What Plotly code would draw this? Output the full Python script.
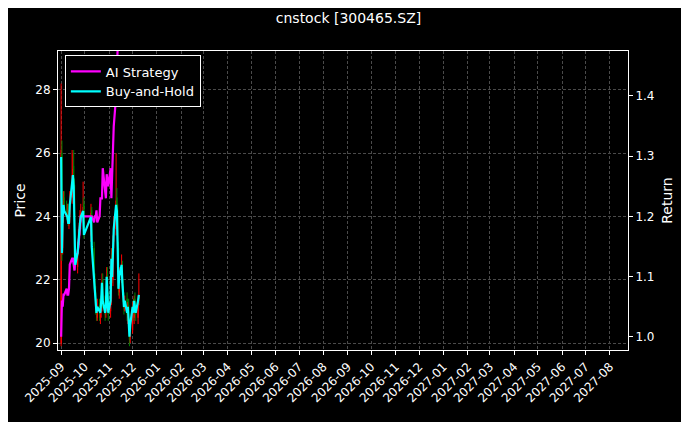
import pandas as pd
import plotly.graph_objects as go

dates = [d for d in pd.bdate_range("2025-09-01", "2025-12-10") if not (pd.Timestamp("2025-10-01") <= d <= pd.Timestamp("2025-10-08"))]

open_ = [20.0,26.0,23.0,24.0,24.6,24.2,24.0,24.2,23.8,24.0,24.6,25.2,25.6,25.0,22.8,22.4,23.0,23.2,23.6,23.8,24.2,24.4,
         23.4,24.2,23.0,22.0,21.6,21.2,20.8,21.2,20.8,21.0,21.2,22.0,21.2,21.0,21.2,22.2,
         21.4,21.0,21.4,22.8,22.0,23.2,23.6,24.6,24.2,23.0,21.6,22.2,22.4,21.8,21.4,21.2,21.4,20.8,21.2,20.6,
         20.2,20.4,21.2,20.8,21.4,21.0,20.8,21.4]
high = [28.2,26.4,24.4,24.8,24.8,24.5,24.4,24.4,24.2,24.8,26.1,26.0,26.1,25.2,23.0,23.2,23.6,23.8,24.2,24.4,25.1,24.6,
        24.4,24.3,23.2,22.2,21.8,21.4,21.4,21.4,21.1,21.5,22.2,22.2,21.5,21.4,22.4,22.4,
        21.6,21.6,23.0,23.0,23.4,24.0,26.0,24.9,24.4,23.2,22.4,22.8,22.6,22.0,21.6,21.5,21.6,21.3,21.4,20.8,
        20.7,21.3,21.4,21.5,21.6,21.2,21.5,22.2]
low = [19.9,22.6,22.8,23.8,24.1,23.9,23.8,23.7,23.6,23.8,24.4,25.0,24.9,22.5,22.3,22.2,22.8,23.1,23.4,23.6,24.0,23.3,
       23.2,22.9,21.7,21.5,20.9,20.7,20.7,20.7,20.6,20.8,21.0,21.1,20.7,20.8,21.0,21.3,
       20.7,20.8,21.2,21.9,21.8,23.0,23.4,24.0,22.9,21.5,21.4,21.9,21.7,21.3,20.9,21.0,20.7,20.6,20.5,19.9,
       20.0,20.3,20.7,20.6,20.9,20.7,20.6,21.2]
close = [26.1,22.9,24.1,24.5,24.3,24.1,24.1,23.9,23.9,24.5,25.3,25.5,25.1,22.7,22.5,22.9,23.3,23.5,23.9,24.1,24.3,23.5,
         24.1,23.1,21.9,21.7,21.1,20.9,21.1,20.9,20.9,21.3,21.9,21.3,20.9,21.1,22.1,21.5,
         20.9,21.3,22.7,22.1,23.1,23.7,24.5,24.3,23.1,21.7,22.1,22.5,21.9,21.5,21.1,21.3,20.9,21.1,20.7,20.1,
         20.5,21.1,20.9,21.3,21.1,20.9,21.3,21.5]
strategy = [1.00,1.06,1.05,1.07,1.07,1.08,1.07,1.07,1.08,1.12,1.13,1.13,1.12,1.11,1.13,1.14,1.15,1.17,1.19,1.20,1.20,1.20,
            1.20,1.20,1.19,1.20,1.20,1.21,1.19,1.20,1.23,1.23,1.23,1.28,1.24,1.23,1.27,1.26,
            1.25,1.28,1.23,1.27,1.30,1.35,1.40,1.45,1.50,1.55,1.56,1.58,1.60,1.60,1.62,1.62,1.63,1.63,1.64,1.64,
            1.65,1.65,1.65,1.65,1.65,1.65,1.65,1.65]
base_price = 20.1
buy_hold = [c / base_price for c in close]

fig = go.Figure()
fig.add_trace(go.Candlestick(x=dates, open=open_, high=high, low=low, close=close,
    increasing=dict(line=dict(color="#ff0000", width=1), fillcolor="#ff0000"),
    decreasing=dict(line=dict(color="#008000", width=1), fillcolor="#008000"),
    whiskerwidth=0, showlegend=False, yaxis="y"))
fig.add_trace(go.Scatter(x=dates, y=strategy, mode="lines", name="AI Strategy",
                         line=dict(color="#ff00ff", width=2.2), yaxis="y2"))
fig.add_trace(go.Scatter(x=dates, y=buy_hold, mode="lines", name="Buy-and-Hold",
                         line=dict(color="#00ffff", width=2.2), yaxis="y2"))

grid = dict(showgrid=True, gridcolor="#4a4a4a", griddash="3px,2px", gridwidth=0.6,
            showline=True, linecolor="white", mirror=True, ticks="outside", ticklen=4,
            tickcolor="white", color="white", zeroline=False, automargin=False)
fig.update_layout(
    width=681, height=414, paper_bgcolor="black", plot_bgcolor="black",
    font=dict(family="DejaVu Sans", size=12, color="white"),
    margin=dict(l=50, r=61, t=43, b=72),
    title=dict(text="cnstock [300465.SZ]", x=0.5, y=0.975, yanchor="middle", xanchor="center", font=dict(size=14)),
    xaxis=dict(**grid, type="date", range=["2025-08-28", "2027-08-24"], dtick="M1",
               tick0="2025-09-01", tickformat="%Y-%m", tickangle=-45, rangeslider=dict(visible=False)),
    yaxis=dict(**grid, title=dict(text="Price", standoff=6), range=[19.78, 29.23], dtick=2),
    yaxis2=dict(showgrid=False, showline=False, ticks="outside", ticklen=4, tickcolor="white", color="white",
                overlaying="y", side="right", title=dict(text="Return", standoff=8), automargin=False,
                range=[0.978, 1.4747], dtick=0.1, tickformat=".1f", zeroline=False),
    legend=dict(x=0.012, y=0.985, xanchor="left", yanchor="top", bgcolor="black",
                bordercolor="white", borderwidth=1, font=dict(size=13)),
)
fig.write_html("out.html")
